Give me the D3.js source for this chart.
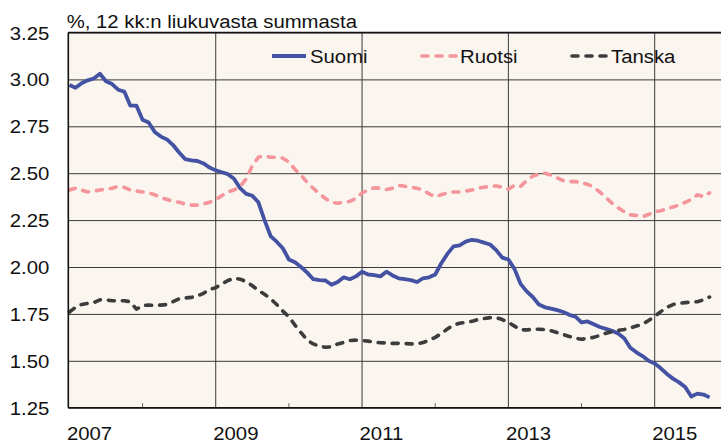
<!DOCTYPE html>
<html><head><meta charset="utf-8">
<script src="https://cdn.jsdelivr.net/npm/d3@7"></script>
<style>
body{margin:0;background:#fff}
svg{display:block}
text{font-family:"Liberation Sans",Arial,Helvetica,sans-serif;fill:#111}
</style>
</head><body>
<svg id="c" width="721" height="444"></svg>
<script>
// ---- data ----
const startYear = 2007; // first monthly observation: Jan 2007
const title = "%, 12 kk:n liukuvasta summasta";
const yearLabels = [2007, 2009, 2011, 2013, 2015];
const minorYears = [2008, 2010, 2012, 2014];
const yTicks = [1.25, 1.50, 1.75, 2.00, 2.25, 2.50, 2.75, 3.00, 3.25];
const seriesNames = ["Suomi", "Ruotsi", "Tanska"];

const suomi = [
 2.97,2.955,2.98,2.995,3.005,3.03,2.99,2.975,2.945,2.935,2.86,2.86,
 2.785,2.77,2.72,2.695,2.68,2.65,2.61,2.575,2.568,2.565,2.552,2.53,
 2.515,2.505,2.495,2.47,2.42,2.39,2.38,2.345,2.25,2.165,2.135,2.10,
 2.04,2.025,2.00,1.97,1.935,1.93,1.928,1.905,1.92,1.945,1.935,1.95,
 1.975,1.96,1.957,1.95,1.975,1.955,1.94,1.935,1.93,1.92,1.94,1.945,
 1.96,2.02,2.07,2.11,2.115,2.135,2.145,2.14,2.13,2.12,2.09,2.05,
 2.04,1.99,1.91,1.87,1.84,1.80,1.785,1.778,1.77,1.76,1.745,1.735,
 1.705,1.71,1.695,1.68,1.67,1.66,1.645,1.62,1.57,1.545,1.525,1.50,
 1.485,1.46,1.43,1.405,1.385,1.36,1.31,1.325,1.32,1.305
];
const ruotsi = [
 2.41,2.42,2.41,2.40,2.405,2.41,2.415,2.42,2.43,2.425,2.41,2.405,
 2.40,2.395,2.385,2.37,2.36,2.35,2.345,2.335,2.33,2.33,2.336,2.345,
 2.36,2.38,2.40,2.41,2.43,2.47,2.54,2.585,2.592,2.585,2.585,2.58,
 2.56,2.52,2.49,2.45,2.42,2.39,2.365,2.345,2.34,2.345,2.35,2.365,
 2.395,2.41,2.422,2.42,2.413,2.42,2.435,2.43,2.425,2.42,2.41,2.39,
 2.375,2.385,2.395,2.40,2.40,2.405,2.41,2.42,2.425,2.43,2.432,2.425,
 2.415,2.435,2.43,2.46,2.485,2.495,2.50,2.49,2.475,2.46,2.455,2.455,
 2.45,2.44,2.425,2.40,2.37,2.34,2.315,2.295,2.278,2.275,2.268,2.28,
 2.295,2.30,2.31,2.32,2.33,2.345,2.36,2.385,2.375,2.395
];
const tanska = [
 1.76,1.785,1.80,1.806,1.81,1.825,1.825,1.82,1.82,1.82,1.815,1.775,
 1.795,1.797,1.795,1.797,1.80,1.815,1.83,1.835,1.838,1.845,1.86,1.88,
 1.89,1.91,1.928,1.94,1.935,1.922,1.90,1.875,1.855,1.83,1.80,1.765,
 1.735,1.69,1.65,1.61,1.59,1.578,1.572,1.575,1.59,1.598,1.608,1.61,
 1.608,1.605,1.60,1.596,1.595,1.593,1.593,1.592,1.59,1.59,1.597,1.61,
 1.625,1.645,1.67,1.69,1.70,1.705,1.71,1.72,1.725,1.73,1.73,1.72,
 1.705,1.685,1.665,1.665,1.668,1.668,1.666,1.66,1.65,1.64,1.63,1.62,
 1.615,1.62,1.625,1.635,1.647,1.655,1.662,1.667,1.675,1.685,1.695,1.715,
 1.737,1.762,1.785,1.80,1.806,1.81,1.813,1.815,1.825,1.84
];

// ---- layout ----
const svg = d3.select("#c");
const plotL = 68.3, plotR = 721, plotT = 32.5, plotB = 407.7;
const x = d3.scaleLinear().domain([2007, 2015]).range([69.4, 654.7]);
const y = d3.scaleLinear().domain([1.25, 3.25]).range([plotB, plotT]);
const FS = 18, SX = 1.13;
const gridCol = "#3a3a3a";

svg.append("rect").attr("x", plotL).attr("y", plotT)
  .attr("width", plotR - plotL).attr("height", plotB - plotT)
  .attr("fill", "#FAF5EF");

// horizontal gridlines via axis
const gy = svg.append("g").attr("transform", `translate(${plotL},0)`)
  .call(d3.axisLeft(y).tickValues(yTicks).tickSize(-(plotR - plotL)).tickFormat(d3.format(".2f")));
gy.select(".domain").remove();
gy.selectAll(".tick line").attr("stroke", gridCol).attr("stroke-width", 1);
gy.selectAll(".tick text")
  .attr("x", 0).attr("dy", null).attr("dominant-baseline", null)
  .attr("transform", `translate(-19,6.5) scale(${SX},1)`)
  .attr("text-anchor", "end")
  .style("font-size", FS + "px").style("font-family", '"Liberation Sans",Arial,sans-serif')
  .attr("fill", "#111");

// vertical gridlines
svg.append("g").selectAll("line").data(yearLabels.slice(1)).join("line")
  .attr("x1", d => x(d)).attr("x2", d => x(d))
  .attr("y1", plotT).attr("y2", plotB)
  .attr("stroke", gridCol).attr("stroke-width", 1);

// minor ticks at bottom
svg.append("g").selectAll("line").data(minorYears).join("line")
  .attr("x1", d => x(d)).attr("x2", d => x(d))
  .attr("y1", plotB - 4.5).attr("y2", plotB)
  .attr("stroke", "#666").attr("stroke-width", 1);

// x labels
svg.append("g").selectAll("text").data(yearLabels).join("text")
  .attr("transform", d => `translate(${x(d) - 2.5},440) scale(${SX},1)`)
  .attr("text-anchor", "start")
  .style("font-size", FS + "px")
  .text(d => d);

// series
const line = d3.line()
  .x((d, i) => x(startYear + i / 12))
  .y(d => y(d));

svg.append("path").datum(suomi).attr("d", line)
  .attr("fill", "none").attr("stroke", "#4352A3").attr("stroke-width", 3.8)
  .attr("stroke-linejoin", "round");
svg.append("path").datum(ruotsi).attr("d", line)
  .attr("fill", "none").attr("stroke", "#F4949B").attr("stroke-width", 3.6)
  .attr("stroke-dasharray", "6 8").attr("stroke-linecap", "round").attr("stroke-linejoin", "round");
svg.append("path").datum(tanska).attr("d", line)
  .attr("fill", "none").attr("stroke", "#3C3C3C").attr("stroke-width", 3.6)
  .attr("stroke-dasharray", "6 8").attr("stroke-linecap", "round").attr("stroke-linejoin", "round");

// axes border lines
svg.append("line").attr("x1", plotL).attr("x2", plotR).attr("y1", plotT).attr("y2", plotT)
  .attr("stroke", "#111").attr("stroke-width", 1.4);
svg.append("line").attr("x1", plotL).attr("x2", plotR).attr("y1", plotB).attr("y2", plotB)
  .attr("stroke", "#111").attr("stroke-width", 1.6);
svg.append("line").attr("x1", plotL).attr("x2", plotL).attr("y1", plotT).attr("y2", plotB)
  .attr("stroke", "#111").attr("stroke-width", 1.6);

// title
svg.append("text").attr("transform", `translate(66.7,28) scale(${SX},1)`)
  .style("font-size", FS + "px").text(title);

// legend
const legend = [
  {name: seriesNames[0], x1: 272, x2: 306, tx: 310, color: "#4352A3", dash: null},
  {name: seriesNames[1], x1: 422, x2: 456, tx: 460, color: "#F4949B", dash: "6 8"},
  {name: seriesNames[2], x1: 572, x2: 606, tx: 611, color: "#3C3C3C", dash: "6 8"}
];
const lg = svg.append("g").selectAll("g").data(legend).join("g");
lg.append("line").attr("x1", d => d.x1).attr("x2", d => d.x2).attr("y1", 56).attr("y2", 56)
  .attr("stroke", d => d.color).attr("stroke-width", d => d.dash ? 3.6 : 3.8)
  .attr("stroke-dasharray", d => d.dash).attr("stroke-linecap", d => d.dash ? "round" : "butt");
lg.append("text").attr("transform", d => `translate(${d.tx},62.8) scale(${SX},1)`)
  .style("font-size", FS + "px").text(d => d.name);
</script>
</body></html>
